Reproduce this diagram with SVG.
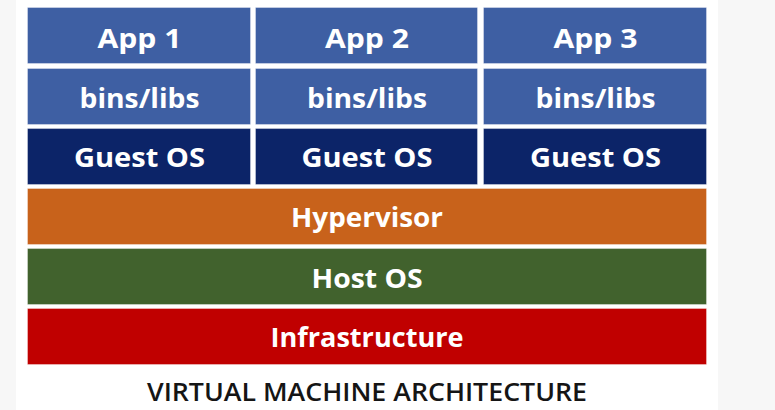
<svg xmlns="http://www.w3.org/2000/svg" width="775" height="410" viewBox="0 0 775 410">
<style>
.box{stroke:#ffffff;stroke-opacity:0.35;stroke-width:1}
.app{fill:#3e5fa3}
.guest{fill:#0c2468}
.hyp{fill:#c8621b}
.host{fill:#41622d}
.infra{fill:#c00000}
.lbl{font-family:"Open Sans","Liberation Sans",sans-serif;font-weight:700;font-size:26px;fill:#ffffff;text-anchor:middle}
.title{font-family:"Open Sans","Liberation Sans",sans-serif;font-weight:600;font-size:25px;fill:#151515;text-anchor:middle}
</style>
<rect x="0" y="0" width="775" height="410" fill="#f7f7f7"/>
<rect x="16" y="0" width="702" height="410" fill="#ffffff"/>
<g id="app1"><rect class="box app" x="27.5" y="7.5" width="223" height="56"/><text class="lbl" x="139.5" y="48" textLength="84" lengthAdjust="spacingAndGlyphs">App 1</text></g>
<g id="app2"><rect class="box app" x="255.5" y="7.5" width="222" height="56"/><text class="lbl" x="367" y="48" textLength="84" lengthAdjust="spacingAndGlyphs">App 2</text></g>
<g id="app3"><rect class="box app" x="483.5" y="7.5" width="223" height="56"/><text class="lbl" x="595.5" y="48" textLength="84" lengthAdjust="spacingAndGlyphs">App 3</text></g>
<g id="libs1"><rect class="box app" x="27.5" y="68.5" width="223" height="56"/><text class="lbl" x="139.5" y="108" textLength="120" lengthAdjust="spacingAndGlyphs">bins/libs</text></g>
<g id="libs2"><rect class="box app" x="255.5" y="68.5" width="222" height="56"/><text class="lbl" x="367" y="108" textLength="120" lengthAdjust="spacingAndGlyphs">bins/libs</text></g>
<g id="libs3"><rect class="box app" x="483.5" y="68.5" width="223" height="56"/><text class="lbl" x="595.5" y="108" textLength="120" lengthAdjust="spacingAndGlyphs">bins/libs</text></g>
<g id="guest1"><rect class="box guest" x="27.5" y="128.5" width="223" height="56"/><text class="lbl" x="139.5" y="167" textLength="131" lengthAdjust="spacingAndGlyphs">Guest OS</text></g>
<g id="guest2"><rect class="box guest" x="255.5" y="128.5" width="222" height="56"/><text class="lbl" x="367" y="167" textLength="131" lengthAdjust="spacingAndGlyphs">Guest OS</text></g>
<g id="guest3"><rect class="box guest" x="483.5" y="128.5" width="223" height="56"/><text class="lbl" x="595.5" y="167" textLength="131" lengthAdjust="spacingAndGlyphs">Guest OS</text></g>
<g id="hypervisor"><rect class="box hyp" x="27.5" y="188.5" width="679" height="56"/><text class="lbl" x="367" y="227" textLength="152" lengthAdjust="spacingAndGlyphs">Hypervisor</text></g>
<g id="hostos"><rect class="box host" x="27.5" y="248.5" width="679" height="56"/><text class="lbl" x="367" y="288" textLength="111" lengthAdjust="spacingAndGlyphs">Host OS</text></g>
<g id="infrastructure"><rect class="box infra" x="27.5" y="308.5" width="679" height="56"/><text class="lbl" x="367" y="347" textLength="193" lengthAdjust="spacingAndGlyphs">Infrastructure</text></g>
<g id="caption"><text class="title" x="367" y="401" textLength="440" lengthAdjust="spacingAndGlyphs">VIRTUAL MACHINE ARCHITECTURE</text></g>
</svg>
